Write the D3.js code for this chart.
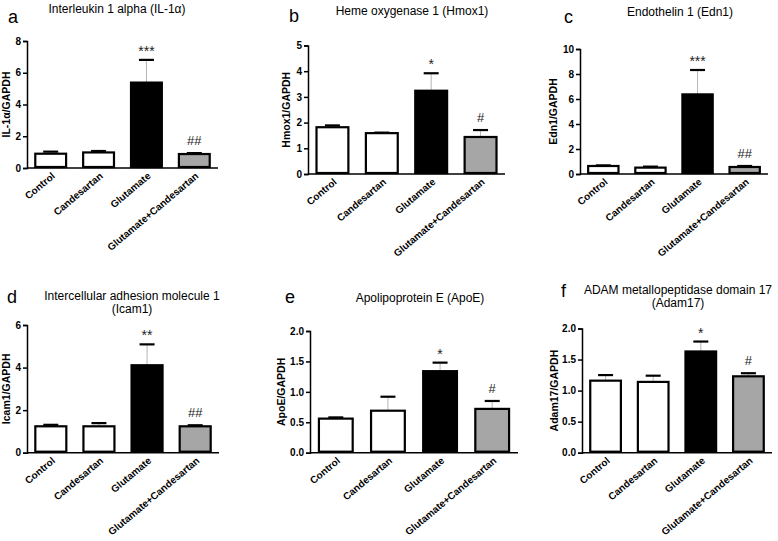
<!DOCTYPE html>
<html><head><meta charset="utf-8">
<script src="https://cdn.jsdelivr.net/npm/d3@7"></script>
<style>body{margin:0;background:#fff}svg{display:block}text{font-family:"Liberation Sans",Arial,sans-serif}</style>
</head><body>
<svg id="c" width="778" height="541"></svg>
<script>
const categories = ["Control","Candesartan","Glutamate","Glutamate+Candesartan"];
const fills = ["#ffffff","#ffffff","#000000","#a6a6a6"];

const titles = [
  ["Interleukin 1 alpha (IL-1\u03b1)"],
  ["Heme oxygenase 1 (Hmox1)"],
  ["Endothelin 1 (Edn1)"],
  ["Intercellular adhesion molecule 1","(Icam1)"],
  ["Apolipoprotein E (ApoE)"],
  ["ADAM metallopeptidase domain 17","(Adam17)"]
];
const letters = ["a","b","c","d","e","f"];
const yLabels = ["IL-1\u03b1/GAPDH","Hmox1/GAPDH","Edn1/GAPDH","Icam1/GAPDH","ApoE/GAPDH","Adam17/GAPDH"];

const il1aMean   = [0.90, 0.98, 5.38, 0.88];
const il1aErr    = [0.13, 0.09, 1.43, 0.06];
const hmox1Mean  = [1.82, 1.59, 3.24, 1.44];
const hmox1Err   = [0.07, 0.02, 0.68, 0.27];
const edn1Mean   = [0.64, 0.51, 6.37, 0.56];
const edn1Err    = [0.05, 0.08, 1.95, 0.08];
const icam1Mean  = [1.24, 1.24, 4.11, 1.24];
const icam1Err   = [0.07, 0.15, 0.98, 0.05];
const apoeMean   = [0.56, 0.69, 1.34, 0.72];
const apoeErr    = [0.02, 0.23, 0.14, 0.13];
const adam17Mean = [1.16, 1.14, 1.63, 1.23];
const adam17Err  = [0.09, 0.10, 0.16, 0.05];

const yMax = [8, 5, 10, 6, 2, 2];
const yTicks = [[0,2,4,6,8],[0,1,2,3,4,5],[0,2,4,6,8,10],[0,2,4,6],[0,0.5,1,1.5,2],[0,0.5,1,1.5,2]];
const yFormats = ["d","d","d","d",".1f",".1f"];

const sigStars = [["","","***","##"],["","","*","#"],["","","***","##"],["","","**","##"],["","","*","#"],["","","*","#"]];

const means = [il1aMean, hmox1Mean, edn1Mean, icam1Mean, apoeMean, adam17Mean];
const errs  = [il1aErr, hmox1Err, edn1Err, icam1Err, apoeErr, adam17Err];

// layout (pixels)
const layout = [
  {x0:27,  x1:218, yT:41,    yB:168,   ly:-17, lx:8,   lb:23,  tx:117, tb:[12.5]},
  {x0:308, x1:505, yT:45.5,  yB:174,   ly:-18, lx:289, lb:22,  tx:412, tb:[15]},
  {x0:580, x1:768, yT:49,    yB:174,   ly:-23, lx:564, lb:23,  tx:680, tb:[16]},
  {x0:27,  x1:219, yT:325,   yB:452.7, ly:-17, lx:7,   lb:303, tx:132, tb:[300,313]},
  {x0:310, x1:518, yT:331,   yB:452.7, ly:-25, lx:285, lb:303, tx:420, tb:[302]},
  {x0:582, x1:772, yT:328.5, yB:452.7, ly:-24, lx:561, lb:297, tx:678, tb:[294,307]}
];

const svg = d3.select("#c");

layout.forEach((L, i) => {
  const g = svg.append("g");
  const x = d3.scaleBand().domain(categories).range([L.x0, L.x1]).paddingInner(0.31).paddingOuter(0.15);
  const y = d3.scaleLinear().domain([0, yMax[i]]).range([L.yB, L.yT]);

  g.append("text").attr("x", L.lx).attr("y", L.lb).attr("font-size", 18).text(letters[i]);
  titles[i].forEach((t, k) => {
    g.append("text").attr("x", L.tx).attr("y", L.tb[k]).attr("font-size", 12)
      .attr("text-anchor", "middle").text(t);
  });

  const data = categories.map((c, j) => ({c, m: means[i][j], e: errs[i][j], f: fills[j], s: sigStars[i][j]}));

  data.forEach(d => {
    const cx = x(d.c) + x.bandwidth() / 2;
    g.append("line").attr("x1", cx).attr("x2", cx).attr("y1", y(d.m)).attr("y2", y(d.m + d.e))
      .attr("stroke", "#b5b5b5").attr("stroke-width", 1);
    g.append("line").attr("x1", cx - 7.5).attr("x2", cx + 7.5).attr("y1", y(d.m + d.e)).attr("y2", y(d.m + d.e))
      .attr("stroke", "#000").attr("stroke-width", 2.2);
  });

  g.selectAll("rect.bar").data(data).join("rect")
    .attr("x", d => x(d.c) + 1.1)
    .attr("width", x.bandwidth() - 2.2)
    .attr("y", d => y(d.m))
    .attr("height", d => y(0) - y(d.m) - 1)
    .attr("fill", d => d.f)
    .attr("stroke", "#000").attr("stroke-width", 2.2);

  data.forEach(d => {
    if (!d.s) return;
    const cx = x(d.c) + x.bandwidth() / 2;
    const isStar = d.s.startsWith("*");
    g.append("text").attr("x", cx).attr("y", y(d.m + d.e) - (isStar ? 4 : 8))
      .attr("text-anchor", "middle").attr("font-size", isStar ? 14 : 13)
      .attr("font-family", '"Liberation Sans",Arial,sans-serif')
      .attr("fill", "#222").text(d.s);
  });

  const ya = d3.axisLeft(y).tickValues(yTicks[i]).tickFormat(d3.format(yFormats[i])).tickSize(4).tickPadding(2);
  const yg = g.append("g").attr("transform", `translate(${L.x0},0)`).call(ya);
  yg.select(".domain").attr("stroke-width", 1.5);
  yg.selectAll(".tick line").attr("stroke-width", 1.5);
  yg.selectAll(".tick text").attr("font-size", 10).attr("font-weight", "bold")
    .attr("font-family", '"Liberation Sans",Arial,sans-serif');

  const xa = d3.axisBottom(x).tickSize(0).tickPadding(0);
  const xg = g.append("g").attr("transform", `translate(0,${L.yB})`).call(xa);
  xg.select(".domain").attr("stroke-width", 1.5).attr("d", `M${L.x0},0H${L.x1}`);
  xg.selectAll(".tick text").attr("font-size", 10).attr("font-weight", "bold")
    .attr("font-family", '"Liberation Sans",Arial,sans-serif')
    .attr("text-anchor", "end").attr("dy", null).attr("y", 0)
    .attr("transform", "translate(5,9) rotate(-40)");

  g.append("text").attr("transform", `translate(${L.x0 + L.ly},${(L.yT + L.yB) / 2}) rotate(-90)`)
    .attr("text-anchor", "middle").attr("font-size", 10.5).attr("font-weight", "bold")
    .text(yLabels[i]);
});
</script>
</body></html>
